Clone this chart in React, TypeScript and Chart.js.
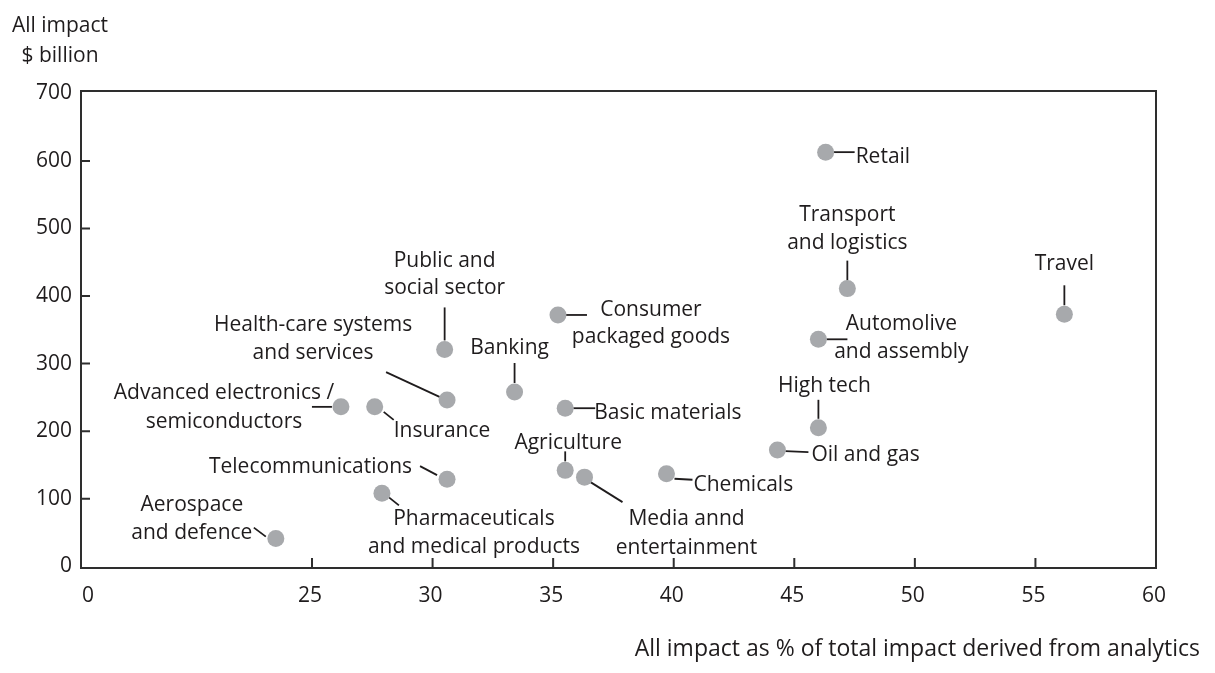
import React, { useEffect, useRef } from 'react';
import { Chart, registerables } from 'chart.js';

Chart.register(...registerables);

// ---------------- data ----------------
const sectors = [
  'Retail',
  'Transport and logistics',
  'Travel',
  'Automolive and assembly',
  'High tech',
  'Oil and gas',
  'Chemicals',
  'Media annd entertainment',
  'Agriculture',
  'Basic materials',
  'Consumer packaged goods',
  'Banking',
  'Public and social sector',
  'Health-care systems and services',
  'Advanced electronics / semiconductors',
  'Insurance',
  'Telecommunications',
  'Pharmaceuticals and medical products',
  'Aerospace and defence',
];

// All impact as % of total impact derived from analytics
const analyticsShare = [46.3, 47.2, 56.2, 46.0, 46.0, 44.3, 39.7, 36.3, 35.5, 35.5, 35.2, 33.4, 30.5, 30.6, 26.2, 27.6, 30.6, 27.9, 23.5];
// All impact, $ billion
const impactBillion = [613, 411, 373, 336, 205, 172, 137, 132, 142, 234, 372, 258, 321, 246, 236, 236, 129, 108, 41];

const xTickValues = [25, 30, 35, 40, 45, 50, 55, 60];
const yTickValues = [0, 100, 200, 300, 400, 500, 600, 700];
const xAxisBreakStart = 15.42; // broken axis: left edge stands for 0
const xOriginLabelValue = 15.79;
const xOriginLabel = '0';
const yRangeMin = -2.5;
const yRangeMax = 703.5;
const yTitleLines = ['All impact', '$ billion'];
const xTitle = 'All impact as % of total impact derived from analytics';

// ---------------- label layout (pixels, relative to each point) ----------------
type Callout = {
  lines: string[];
  align: CanvasTextAlign;
  dx: number;
  dy: number[];
  leader: [number, number, number, number];
};

const callouts: Callout[] = [
  { lines: ['Retail'], align: 'left', dx: 30, dy: [11], leader: [8, 0, 29, 0] },
  { lines: ['Transport', 'and logistics'], align: 'center', dx: 0, dy: [-68, -40], leader: [0, -28, 0, -8] },
  { lines: ['Travel'], align: 'center', dx: 0, dy: [-44], leader: [0, -29, 0, -9] },
  { lines: ['Automolive', 'and assembly'], align: 'center', dx: 83, dy: [-9, 19], leader: [8, 0, 29, 0] },
  { lines: ['High tech'], align: 'center', dx: 6, dy: [-36], leader: [0, -28, 0, -9] },
  { lines: ['Oil and gas'], align: 'left', dx: 34, dy: [11], leader: [8, 1, 31, 2] },
  { lines: ['Chemicals'], align: 'left', dx: 27, dy: [17], leader: [8, 5, 26, 6] },
  { lines: ['Media annd', 'entertainment'], align: 'center', dx: 102, dy: [48, 77], leader: [6, 5, 38, 25] },
  { lines: ['Agriculture'], align: 'center', dx: 3, dy: [-21], leader: [0, -19, 0, -9] },
  { lines: ['Basic materials'], align: 'left', dx: 29, dy: [11], leader: [8, 0, 30, 0] },
  { lines: ['Consumer', 'packaged goods'], align: 'center', dx: 93, dy: [1, 28], leader: [8, 0, 29, 0] },
  { lines: ['Banking'], align: 'center', dx: -5, dy: [-38], leader: [0, -29, 0, -9] },
  { lines: ['Public and', 'social sector'], align: 'center', dx: 0, dy: [-82, -55], leader: [0, -42, 0, -9] },
  { lines: ['Health-care systems', 'and services'], align: 'center', dx: -134, dy: [-69, -41], leader: [-61, -28, -7, -3] },
  { lines: ['Advanced electronics /', 'semiconductors'], align: 'center', dx: -117, dy: [-8, 21], leader: [-29, 0, -9, 0] },
  { lines: ['Insurance'], align: 'left', dx: 19, dy: [30], leader: [9, 5, 19, 13] },
  { lines: ['Telecommunications'], align: 'right', dx: -35, dy: [-6], leader: [-27, -13, -10, -4] },
  { lines: ['Pharmaceuticals', 'and medical products'], align: 'center', dx: 92, dy: [32, 60], leader: [7, 4, 17, 12] },
  { lines: ['Aerospace', 'and defence'], align: 'center', dx: -84, dy: [-28, 0], leader: [-22, -11, -10, -2] },
];

const INK = '#1f1c1d';
const AXIS = '#2e2e2e';
const DOT = '#a7a9ac';
const FONT_FAMILY = "'Open Sans', sans-serif";
const FONT_SIZE = 21;
const X_TITLE_SIZE = 23;

const decorPlugin = {
  id: 'decor',
  beforeDatasetsDraw(chart: any) {
    const { ctx } = chart;
    const x = chart.scales.x;
    const y = chart.scales.y;
    ctx.save();
    ctx.strokeStyle = INK;
    ctx.lineWidth = 1.8;
    ctx.fillStyle = INK;
    ctx.font = `${FONT_SIZE}px ${FONT_FAMILY}`;
    ctx.textBaseline = 'alphabetic';
    sectors.forEach((_, i) => {
      const px = x.getPixelForValue(analyticsShare[i]);
      const py = y.getPixelForValue(impactBillion[i]);
      const c = callouts[i];
      ctx.beginPath();
      ctx.moveTo(px + c.leader[0], py + c.leader[1]);
      ctx.lineTo(px + c.leader[2], py + c.leader[3]);
      ctx.stroke();
      ctx.textAlign = c.align;
      c.lines.forEach((t, k) => ctx.fillText(t, px + c.dx, py + c.dy[k]));
    });
    ctx.restore();
  },
  afterDraw(chart: any) {
    const { ctx, chartArea: a } = chart;
    const x = chart.scales.x;
    const y = chart.scales.y;
    ctx.save();
    ctx.strokeStyle = AXIS;
    ctx.lineWidth = 2;
    ctx.strokeRect(a.left, a.top, a.right - a.left, a.bottom - a.top);
    ctx.beginPath();
    xTickValues.slice(0, -1).forEach((v) => {
      const p = x.getPixelForValue(v);
      ctx.moveTo(p, a.bottom);
      ctx.lineTo(p, a.bottom - 10);
    });
    yTickValues.slice(1, -1).forEach((v) => {
      const p = y.getPixelForValue(v);
      ctx.moveTo(a.left, p);
      ctx.lineTo(a.left + 9, p);
    });
    ctx.stroke();

    ctx.fillStyle = INK;
    ctx.font = `${FONT_SIZE}px ${FONT_FAMILY}`;
    ctx.textBaseline = 'alphabetic';
    ctx.textAlign = 'center';
    ctx.fillText(yTitleLines[0], a.left - 21, a.top - 59);
    ctx.fillText(yTitleLines[1], a.left - 21, a.top - 29);
    ctx.font = `${X_TITLE_SIZE}px ${FONT_FAMILY}`;
    ctx.textAlign = 'right';
    ctx.fillText(xTitle, a.right + 44, a.bottom + 88);
    ctx.restore();
  },
};

export default function App() {
  const canvasRef = useRef<HTMLCanvasElement | null>(null);

  useEffect(() => {
    if (!canvasRef.current) return;
    const chart = new Chart(canvasRef.current, {
      type: 'scatter',
      data: {
        datasets: [
          {
            label: 'Sectors',
            data: sectors.map((_, i) => ({ x: analyticsShare[i], y: impactBillion[i] })),
            backgroundColor: DOT,
            borderWidth: 0,
            pointRadius: 8.5,
            pointHoverRadius: 8.5,
          },
        ],
      },
      options: {
        animation: false,
        responsive: false,
        devicePixelRatio: 1,
        layout: { padding: { top: 91, right: 59, left: 0, bottom: 0 } },
        plugins: {
          legend: { display: false },
          tooltip: { enabled: false },
        },
        scales: {
          x: {
            type: 'linear',
            min: xAxisBreakStart,
            max: 60,
            grid: { display: false, drawTicks: false },
            border: { display: false },
            afterBuildTicks: (axis: any) => {
              axis.ticks = [{ value: xOriginLabelValue }, ...xTickValues.map((v) => ({ value: v }))];
            },
            afterFit: (axis: any) => {
              axis.height = 105;
            },
            ticks: {
              autoSkip: false,
              maxRotation: 0,
              padding: 15,
              labelOffset: -2,
              color: INK,
              font: { family: FONT_FAMILY, size: FONT_SIZE },
              callback: (value: any) => (value < 20 ? xOriginLabel : String(value)),
            },
          },
          y: {
            type: 'linear',
            min: yRangeMin,
            max: yRangeMax,
            grid: { display: false, drawTicks: false },
            border: { display: false },
            afterBuildTicks: (axis: any) => {
              axis.ticks = yTickValues.map((v) => ({ value: v }));
            },
            afterFit: (axis: any) => {
              axis.width = 81;
            },
            ticks: {
              autoSkip: false,
              padding: 9,
              color: INK,
              font: { family: FONT_FAMILY, size: FONT_SIZE },
              callback: (value: any) => String(value),
            },
          },
        },
      },
      plugins: [decorPlugin],
    });
    return () => chart.destroy();
  }, []);

  return (
    <div style={{ position: 'absolute', left: 0, top: 0, width: 1215, height: 673, background: '#ffffff' }}>
      <canvas ref={canvasRef} width={1215} height={673} style={{ width: 1215, height: 673, display: 'block' }} />
    </div>
  );
}
